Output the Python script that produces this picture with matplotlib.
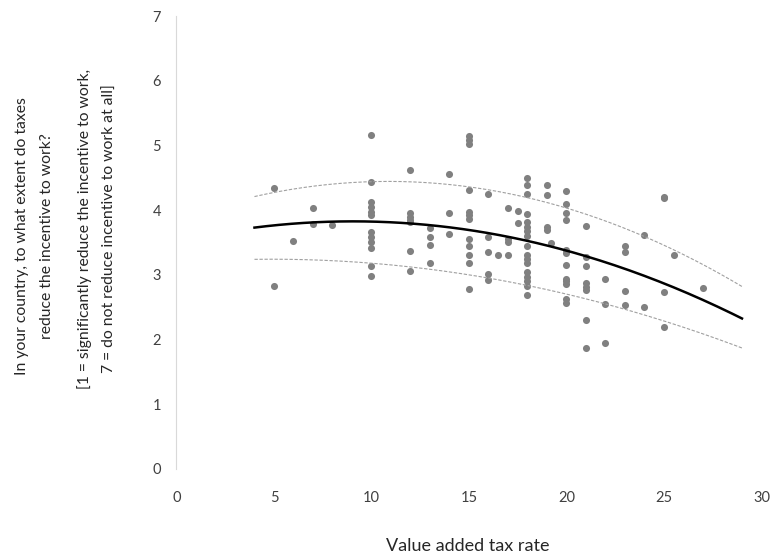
import numpy as np
import matplotlib.pyplot as plt

# VAT rate vs survey answer
vat_rate = [5, 5, 6, 7, 7, 8,
            10, 10, 10, 10, 10, 10, 10, 10, 10, 10, 10, 10,
            12, 12, 12, 12, 12, 12, 12,
            13, 13, 13, 13,
            14, 14, 14,
            15, 15, 15, 15, 15, 15, 15, 15, 15, 15, 15, 15,
            16, 16, 16, 16, 16, 16.5,
            17, 17, 17, 17, 17.5, 17.5,
            18, 18, 18, 18, 18, 18, 18, 18, 18, 18, 18, 18, 18, 18, 18, 18, 18,
            19, 19, 19, 19, 19.2,
            20, 20, 20, 20, 20, 20, 20, 20, 20, 20, 20, 20,
            21, 21, 21, 21, 21, 21, 21, 21,
            22, 22, 22,
            23, 23, 23, 23,
            24, 24,
            25, 25, 25, 25, 25.5, 27]
incentive = [4.34, 2.83, 3.53, 4.04, 3.78, 3.77,
             5.16, 4.43, 4.12, 4.05, 3.97, 3.92, 3.66, 3.58, 3.50, 3.41, 3.13, 2.99,
             4.62, 3.95, 3.90, 3.85, 3.81, 3.37, 3.06,
             3.72, 3.58, 3.46, 3.19,
             4.56, 3.96, 3.63,
             5.14, 5.08, 5.02, 4.31, 3.97, 3.92, 3.86, 3.55, 3.44, 3.31, 3.19, 2.78,
             4.25, 3.58, 3.35, 3.02, 2.92, 3.30,
             4.03, 3.55, 3.51, 3.31, 3.98, 3.80,
             4.49, 4.39, 4.25, 3.94, 3.81, 3.74, 3.67, 3.60, 3.45, 3.31, 3.24, 3.18,
             3.05, 2.97, 2.91, 2.83, 2.69,
             4.39, 4.23, 3.74, 3.69, 3.49,
             4.29, 4.10, 3.95, 3.84, 3.38, 3.34, 3.15, 2.94, 2.90, 2.86, 2.62, 2.57,
             3.76, 3.28, 3.13, 2.88, 2.82, 2.76, 2.31, 1.87,
             2.93, 2.55, 1.94,
             3.44, 3.36, 2.75, 2.53,
             3.62, 2.51,
             4.21, 4.18, 2.73, 2.20, 3.30, 2.79]

# band curves (quadratic coefficients, highest power first)
upper_coef = [-0.004944, 0.10755, 3.859]
lower_coef = [-0.002358, 0.02301, 3.1857]
fit_range = (4, 29)

plt.rcParams['font.family'] = ['Lato', 'DejaVu Sans']

fig = plt.figure(figsize=(7.73, 5.56), dpi=100)
ax = fig.add_axes([0.2283, 0.1565, 0.7568, 0.8147])

ax.scatter(vat_rate, incentive, s=26, color='#808080', linewidths=0, zorder=2)

xs = np.linspace(fit_range[0], fit_range[1], 200)
coef = np.polyfit(vat_rate, incentive, 2)
ax.plot(xs, np.polyval(coef, xs), color='black', lw=1.8, zorder=3)
ax.plot(xs, np.polyval(upper_coef, xs), color='#a0a0a0', lw=0.8,
        linestyle=(0, (3, 1.5)), zorder=3)
ax.plot(xs, np.polyval(lower_coef, xs), color='#a0a0a0', lw=0.8,
        linestyle=(0, (3, 1.5)), zorder=3)

ax.set_xlim(0, 30)
ax.set_ylim(0, 7)
ax.set_xticks(range(0, 31, 5))
ax.set_yticks(range(0, 8))
for side in ['top', 'right', 'bottom']:
    ax.spines[side].set_visible(False)
ax.spines['left'].set_color('#d9d9d9')
ax.tick_params(length=0, labelsize=10.5, colors='#404040')
ax.tick_params(axis='x', pad=16)
ax.tick_params(axis='y', pad=11)

fig.text(0.605, 0.018, 'Value added tax rate', ha='center', va='center',
         fontsize=13, color='#262626')
ylab = [(0.028, 0.5755, 'In your country, to what extent do taxes'),
        (0.061, 0.5755, 'reduce the incentive to work?'),
        (0.109, 0.588, '[1 = significantly reduce the incentive to work,'),
        (0.142, 0.588, '7 = do not reduce incentive to work at all]')]
for xpos, ypos, txt in ylab:
    fig.text(xpos, ypos, txt, rotation=90, ha='center', va='center',
             fontsize=11.3, color='#262626')

fig.savefig('out.png', dpi=100)
